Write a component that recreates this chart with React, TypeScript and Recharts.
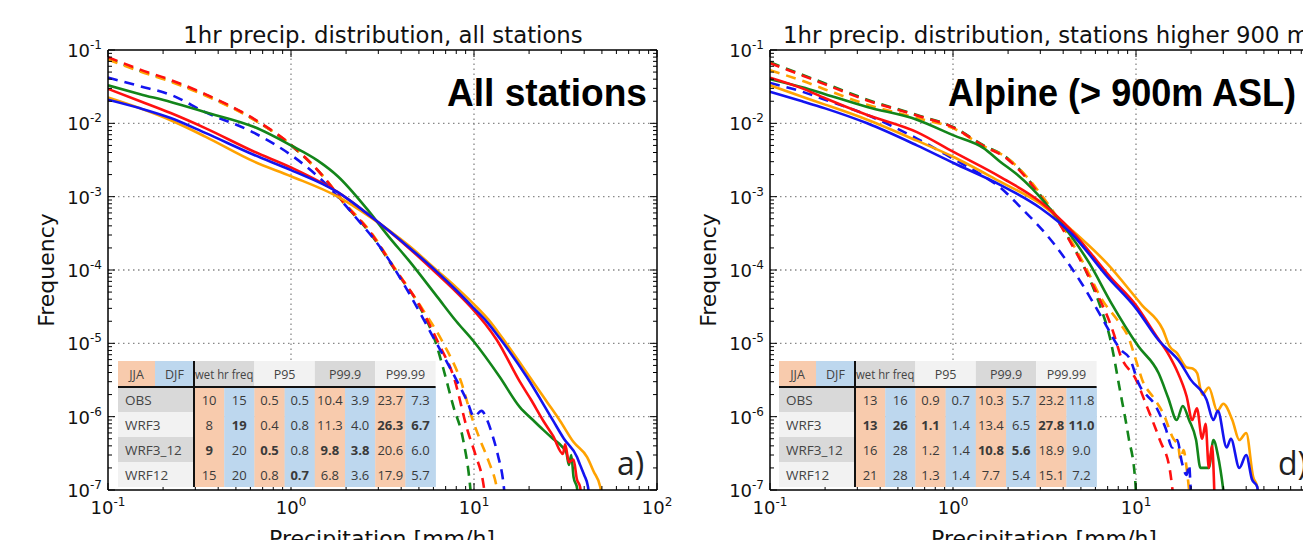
import React from "react";
import { LineChart, Line, XAxis, YAxis, ReferenceLine } from "recharts";

type Pt = [number, number];

// ---- left panel: all stations (solid = JJA, dashed = DJF) ----
const allGreenJJA: Pt[] = [[0.1,0.033],[0.15,0.025],[0.22,0.0195],[0.34,0.0142],[0.63,0.0089],[1.0,0.005],[1.4,0.0031],[1.8,0.0019],[2.6,6.8e-4],[3.4,2.9e-4],[4.4,1.35e-4],[6.3,4.3e-5],[8,2.0e-5],[10,1.05e-5],[13.8,3.5e-6],[17.8,1.35e-6],[21,9e-7],[23.9,6.6e-7],[27,5e-7],[30,4e-7],[32,3.2e-7],[33,2.2e-7],[34,3e-7],[35,1.5e-7],[36.6,1.05e-7],[37.5,5e-8]];
const allRedJJA: Pt[] = [[0.1,0.0295],[0.15,0.02],[0.22,0.0138],[0.34,0.0086],[0.63,0.0041],[1.0,0.0025],[1.8,1.15e-3],[2.7,5.5e-4],[4.4,2.0e-4],[6.3,8.8e-5],[8,5.0e-5],[10,2.8e-5],[11.5,1.85e-5],[13.3,1.12e-5],[17.8,3.0e-6],[20.5,1.7e-6],[23.9,8.8e-7],[27,5.5e-7],[30.6,3.1e-7],[31.5,4.2e-7],[33,2.4e-7],[35,2.6e-7],[36.5,1.4e-7],[38,1.1e-7],[39,5e-8]];
const allBlueJJA: Pt[] = [[0.1,0.021],[0.15,0.016],[0.22,0.0118],[0.34,0.0074],[0.63,0.0037],[1.0,0.0023],[1.8,1.15e-3],[2.7,5.5e-4],[4.4,2.05e-4],[6.3,9.35e-5],[8,5.3e-5],[10,3.0e-5],[11.8,1.95e-5],[13.8,1.18e-5],[19.4,3.5e-6],[27,8.9e-7],[31,5e-7],[36.6,2.8e-7],[38,2.2e-7],[40,1.6e-7],[42,1.1e-7],[43,5e-8]];
const allOrangeJJA: Pt[] = [[0.1,0.0225],[0.15,0.016],[0.22,0.011],[0.34,0.0066],[0.63,0.003],[1.0,0.0019],[1.8,1.0e-3],[2.7,5.3e-4],[4.4,2.15e-4],[6.3,9.8e-5],[8,5.8e-5],[10,3.4e-5],[12,2.1e-5],[14.4,1.15e-5],[21,3.0e-6],[25,1.6e-6],[29.5,8.8e-7],[35,4.5e-7],[41.5,2.8e-7],[45,1.8e-7],[49,1.1e-7],[51,5e-8]];
const allGreenDJF: Pt[] = [[0.1,0.078],[0.15,0.052],[0.22,0.038],[0.34,0.0245],[0.63,0.0112],[1.0,0.005],[1.47,0.002],[2.0,7.5e-4],[2.7,3.2e-4],[3.7,1.0e-4],[5.07,3.1e-5],[6.2,1.0e-5],[6.8,4.5e-6],[7.7,1.4e-6],[8.7,5e-7],[9.5,1.2e-7],[9.8,5e-8]];
const allRedDJF: Pt[] = [[0.1,0.08],[0.15,0.054],[0.22,0.039],[0.34,0.025],[0.63,0.0114],[1.0,0.0051],[1.47,0.002],[2.0,7.6e-4],[2.7,3.3e-4],[3.7,1.02e-4],[5.07,3.2e-5],[6.4,1.0e-5],[7.8,3.3e-6],[9.2,6.6e-7],[10.2,3e-7],[11.2,1.3e-7],[11.8,5e-8]];
const allOrangeDJF: Pt[] = [[0.1,0.074],[0.15,0.051],[0.22,0.037],[0.34,0.024],[0.63,0.0111],[1.0,0.0051],[1.47,0.002],[2.0,7.8e-4],[2.7,3.4e-4],[3.7,1.05e-4],[5.07,3.3e-5],[6.8,1.0e-5],[8.5,3e-6],[9.7,1e-6],[10.8,4.8e-7],[12,2.5e-7],[13.3,1.1e-7],[14,5e-8]];
const allBlueDJF: Pt[] = [[0.1,0.042],[0.15,0.032],[0.22,0.0245],[0.34,0.0142],[0.63,0.0074],[1.0,0.0037],[1.45,0.00175],[2.26,5.2e-4],[3.24,1.7e-4],[4.4,4.9e-5],[6.0,1.2e-5],[8.0,3.2e-6],[9.2,1.6e-6],[10,1.0e-6],[11,1.2e-6],[11.8,9e-7],[12.5,6e-7],[13.5,3e-7],[14.5,1.2e-7],[15,5e-8]];

// ---- right panel: alpine stations (> 900 m) ----
const alpGreenJJA: Pt[] = [[0.1,0.04],[0.15,0.031],[0.2,0.025],[0.34,0.0167],[0.635,0.0112],[1.0,0.0069],[1.47,0.0046],[1.81,0.003],[2.24,0.002],[2.7,1.3e-3],[3.75,5e-4],[5.6,1.2e-4],[7.3,3.6e-5],[10.3,9.1e-6],[13.3,3.9e-6],[15,1.8e-6],[16.7,9e-7],[18,1.4e-6],[19.5,9e-7],[21.3,4.8e-7],[22.5,2e-7],[25,2e-7],[26.5,4.8e-7],[28,3e-7],[30,1e-7],[31,5e-8]];
const alpRedJJA: Pt[] = [[0.1,0.042],[0.15,0.03],[0.2,0.022],[0.34,0.013],[0.635,0.0076],[1.0,0.0041],[1.81,1.86e-3],[3.0,8.5e-4],[4.46,3.4e-4],[7.3,7.8e-5],[10,3.3e-5],[12.8,1.3e-5],[15.3,6.6e-6],[16.7,4.3e-6],[18.9,1.9e-6],[20.3,9e-7],[21.5,1.3e-6],[23,5e-7],[24,8e-7],[25,2e-7],[26,4e-7],[27,5e-8]];
const alpBlueJJA: Pt[] = [[0.1,0.027],[0.15,0.02],[0.2,0.016],[0.34,0.01],[0.635,0.005],[1.0,0.0029],[1.81,1.45e-3],[3.0,7e-4],[4.46,3.1e-4],[7,8e-5],[10,3.0e-5],[13.3,1.1e-5],[17.5,5.4e-6],[19.9,3.2e-6],[24.3,1.7e-6],[26.5,9e-7],[28,1.2e-6],[31.3,3.8e-7],[33,5e-7],[36.7,2e-7],[40,3e-7],[43,1.4e-7],[46,1.1e-7],[47,5e-8]];
const alpOrangeJJA: Pt[] = [[0.1,0.033],[0.15,0.023],[0.2,0.018],[0.34,0.0112],[0.635,0.0058],[1.0,0.0035],[1.81,1.6e-3],[3.0,8e-4],[4.46,3.5e-4],[6.9,1.25e-4],[10.8,3.3e-5],[14,1.55e-5],[15.3,9e-6],[16.7,7.4e-6],[18.9,4.7e-6],[20.5,4.5e-6],[21.6,3.9e-6],[23,2e-6],[25,2.5e-6],[27.8,1.2e-6],[30,1.5e-6],[33.6,9e-7],[36.7,4.8e-7],[40,6e-7],[43.7,1.5e-7],[46,1.1e-7],[48,5e-8]];
const alpGreenDJF: Pt[] = [[0.1,0.068],[0.15,0.046],[0.2,0.035],[0.34,0.021],[0.635,0.013],[1.0,0.0089],[1.47,0.005],[1.97,0.0034],[2.54,1.8e-3],[3.0,1.05e-3],[3.75,4.7e-4],[4.7,1.8e-4],[5.3,1.0e-4],[6.35,3.3e-5],[7.2,1.2e-5],[8.2,2.2e-6],[9.1,5.3e-7],[9.9,1.35e-7],[10.1,5e-8]];
const alpRedDJF: Pt[] = [[0.1,0.066],[0.15,0.045],[0.2,0.034],[0.34,0.0205],[0.635,0.0128],[1.0,0.0088],[1.47,0.0049],[1.97,0.0033],[2.54,1.75e-3],[3.0,1.02e-3],[3.75,4.6e-4],[4.7,1.75e-4],[5.3,1.0e-4],[5.8,6.3e-5],[7.6,1.3e-5],[8.2,7e-6],[10,3.2e-6],[11.5,1.35e-6],[13.5,4.8e-7],[15.3,1.9e-7],[16,8e-8],[16.5,4e-8]];
const alpOrangeDJF: Pt[] = [[0.1,0.053],[0.15,0.038],[0.2,0.029],[0.34,0.018],[0.635,0.0118],[1.0,0.0086],[1.47,0.0049],[1.97,0.0034],[2.54,1.85e-3],[3.0,1.1e-3],[3.75,5e-4],[4.7,1.9e-4],[5.3,1.1e-4],[6.5,4e-5],[8,2e-5],[9.1,1.2e-5],[10.1,5.4e-6],[10.8,3.2e-6],[12.5,1.8e-6],[14.1,1.1e-6],[16,5e-7],[17,4e-7],[17.5,2.6e-7],[18.2,3.5e-7],[18.9,2e-7],[19.5,1e-7],[20,5e-8]];
const alpBlueDJF: Pt[] = [[0.1,0.0355],[0.15,0.027],[0.2,0.021],[0.34,0.013],[0.635,0.0062],[1.0,0.0033],[1.47,0.0019],[1.8,1.35e-3],[2.3,7.5e-4],[3.6,2.2e-4],[5.1,6.3e-5],[6.6,2.1e-5],[8.2,8.3e-6],[9.3,6e-6],[10.3,2.9e-6],[12.9,1.35e-6],[14.5,7e-7],[15.8,3.8e-7],[16.8,4.8e-7],[17.8,2.4e-7],[18.9,1.6e-7],[19.5,2.2e-7],[20,8e-8],[20.5,4e-8]];

// ---- tables ----
const tableRows = ["OBS", "WRF3", "WRF3_12", "WRF12"];
const tableHeads = ["wet hr freq", "P95", "P99.9", "P99.99"];
const allTable = [
  ["10", "15", "0.5", "0.5", "10.4", "3.9", "23.7", "7.3"],
  ["8", "19", "0.4", "0.8", "11.3", "4.0", "26.3", "6.7"],
  ["9", "20", "0.5", "0.8", "9.8", "3.8", "20.6", "6.0"],
  ["15", "20", "0.8", "0.7", "6.8", "3.6", "17.9", "5.7"],
];
const allBold = [
  [0, 0, 0, 0, 0, 0, 0, 0],
  [0, 1, 0, 0, 0, 0, 1, 1],
  [1, 0, 1, 0, 1, 1, 0, 0],
  [0, 0, 0, 1, 0, 0, 0, 0],
];
const alpTable = [
  ["13", "16", "0.9", "0.7", "10.3", "5.7", "23.2", "11.8"],
  ["13", "26", "1.1", "1.4", "13.4", "6.5", "27.8", "11.0"],
  ["16", "28", "1.2", "1.4", "10.8", "5.6", "18.9", "9.0"],
  ["21", "28", "1.3", "1.4", "7.7", "5.4", "15.1", "7.2"],
];
const alpBold = [
  [0, 0, 0, 0, 0, 0, 0, 0],
  [1, 1, 1, 0, 0, 0, 1, 1],
  [0, 0, 0, 0, 1, 1, 0, 0],
  [0, 0, 0, 0, 0, 0, 0, 0],
];

const xMajor = [0.1, 1, 10, 100];
const yMajor = [1e-7, 1e-6, 1e-5, 1e-4, 1e-3, 1e-2, 1e-1];

const GREEN = "#13851a";
const ORANGE = "#ffa200";
const RED = "#ff1010";
const BLUE = "#1414f0";
const SALMON = "#f8cbad";
const SKY = "#bdd7ee";
const FONT = "'DejaVu Sans', sans-serif";
const TFONT = "'Open Sans', sans-serif";

const withMinors = (majors: number[]) => {
  const out: number[] = [];
  majors.forEach((d, i) => {
    out.push(d);
    if (i < majors.length - 1)
      for (let m = 2; m <= 9; m++) out.push(Number((m * d).toPrecision(3)));
  });
  return out;
};
const xTicks = withMinors(xMajor);
const yTicks = withMinors(yMajor);

const isMajor = (v: number) => Math.abs(Math.log10(v) - Math.round(Math.log10(v))) < 1e-6;
const expOf = (v: number) => String(Math.round(Math.log10(v)));

const Pow = ({ x, y, v, anchor }: any) => (
  <text x={x} y={y} textAnchor={anchor} fontFamily={FONT} fontSize={18} fill="#111">
    10<tspan dy={-8} fontSize={12}>{expOf(v)}</tspan>
  </text>
);

const BottomTick = (p: any) => {
  const v = p.payload.value;
  const mj = isMajor(v);
  return (
    <g>
      <line x1={p.x} x2={p.x} y1={p.y} y2={p.y - (mj ? 7 : 4)} stroke="#000" />
      {mj && <Pow x={p.x} y={p.y + 24} v={v} anchor="middle" />}
    </g>
  );
};
const TopTick = (p: any) => {
  const mj = isMajor(p.payload.value);
  return <line x1={p.x} x2={p.x} y1={p.y} y2={p.y + (mj ? 7 : 4)} stroke="#000" />;
};
const LeftTick = (p: any) => {
  const v = p.payload.value;
  const mj = isMajor(v);
  return (
    <g>
      <line x1={p.x} x2={p.x + (mj ? 7 : 4)} y1={p.y} y2={p.y} stroke="#000" />
      {mj && <Pow x={p.x - 6} y={p.y + 7} v={v} anchor="end" />}
    </g>
  );
};
const RightTick = (p: any) => {
  const mj = isMajor(p.payload.value);
  return <line x1={p.x} x2={p.x - (mj ? 7 : 4)} y1={p.y} y2={p.y} stroke="#000" />;
};

const toPts = (arr: Pt[]) => arr.map(([x, y]) => ({ x, y }));
const axisLine = { stroke: "#000", strokeWidth: 1.5 };

type Series = { pts: Pt[]; color: string; dashed: boolean };

const Panel = ({ series, left }: { series: Series[]; left: number }) => (
  <div style={{ position: "absolute", left, top: 0 }}>
    <LineChart width={700} height={540} margin={{ top: 49, right: 42, bottom: 20, left: 60 }}>
      <XAxis dataKey="x" type="number" scale="log" domain={[0.1, 100]} allowDataOverflow
        ticks={xTicks} interval={0} tickSize={0} tickMargin={0} tickLine={false} height={30}
        axisLine={axisLine} tick={BottomTick} />
      <XAxis xAxisId="top" orientation="top" dataKey="x" type="number" scale="log" domain={[0.1, 100]}
        allowDataOverflow ticks={xTicks} interval={0} tickSize={0} tickMargin={0} tickLine={false}
        height={1} axisLine={axisLine} tick={TopTick} />
      <YAxis type="number" scale="log" domain={[1e-7, 0.1]} allowDataOverflow ticks={yTicks}
        interval={0} tickSize={0} tickMargin={0} tickLine={false} width={48} axisLine={axisLine}
        tick={LeftTick} />
      <YAxis yAxisId="right" orientation="right" type="number" scale="log" domain={[1e-7, 0.1]}
        allowDataOverflow ticks={yTicks} interval={0} tickSize={0} tickMargin={0} tickLine={false}
        width={1} axisLine={axisLine} tick={RightTick} />
      {[1, 10].map((v) => (
        <ReferenceLine key={"gx" + v} x={v} stroke="#888" strokeDasharray="1.5 3.5" strokeWidth={1.3} />
      ))}
      {[1e-2, 1e-3, 1e-4, 1e-5, 1e-6].map((v) => (
        <ReferenceLine key={"gy" + v} y={v} stroke="#888" strokeDasharray="1.5 3.5" strokeWidth={1.3} />
      ))}
      {series.map((s, i) => (
        <Line key={i} data={toPts(s.pts)} dataKey="y" type="monotone" stroke={s.color}
          strokeWidth={2.6} strokeDasharray={s.dashed ? "10 7" : undefined} dot={false}
          isAnimationActive={false} />
      ))}
    </LineChart>
  </div>
);

const allSeries: Series[] = [
  { pts: allGreenDJF, color: GREEN, dashed: true },
  { pts: allOrangeDJF, color: ORANGE, dashed: true },
  { pts: allRedDJF, color: RED, dashed: true },
  { pts: allBlueDJF, color: BLUE, dashed: true },
  { pts: allOrangeJJA, color: ORANGE, dashed: false },
  { pts: allGreenJJA, color: GREEN, dashed: false },
  { pts: allRedJJA, color: RED, dashed: false },
  { pts: allBlueJJA, color: BLUE, dashed: false },
];
const alpSeries: Series[] = [
  { pts: alpGreenDJF, color: GREEN, dashed: true },
  { pts: alpOrangeDJF, color: ORANGE, dashed: true },
  { pts: alpRedDJF, color: RED, dashed: true },
  { pts: alpBlueDJF, color: BLUE, dashed: true },
  { pts: alpOrangeJJA, color: ORANGE, dashed: false },
  { pts: alpGreenJJA, color: GREEN, dashed: false },
  { pts: alpRedJJA, color: RED, dashed: false },
  { pts: alpBlueJJA, color: BLUE, dashed: false },
];

const StatsTable = ({ x0, y0, values, bold }: { x0: number; y0: number; values: string[][]; bold: number[][] }) => {
  const labW = 76, jjaW = 37, colW = 30.2, headH = 26, rowH = 25;
  const vx = x0 + labW;
  const greys = ["#d9d9d9", "#f2f2f2"];
  return (
    <g fontFamily={TFONT} fill="#3a3a3a">
      <rect x={x0} y={y0} width={jjaW} height={headH} fill={SALMON} />
      <rect x={x0 + jjaW} y={y0} width={labW - jjaW} height={headH} fill={SKY} />
      <text x={x0 + jjaW / 2} y={y0 + 18} textAnchor="middle" fontSize={12.5} fill="#444">JJA</text>
      <text x={x0 + jjaW + (labW - jjaW) / 2} y={y0 + 18} textAnchor="middle" fontSize={12.5} fill="#444">DJF</text>
      {tableHeads.map((h, i) => (
        <g key={h}>
          <rect x={vx + i * 2 * colW} y={y0} width={2 * colW} height={headH} fill={greys[i % 2]} />
          {i === 0 ? (
            <text x={vx + 1} y={y0 + 18} fontSize={12.5} textLength={2 * colW - 2}
              lengthAdjust="spacingAndGlyphs" fill="#444">{h}</text>
          ) : (
            <text x={vx + i * 2 * colW + colW} y={y0 + 18} textAnchor="middle" fontSize={12.5} fill="#444">{h}</text>
          )}
        </g>
      ))}
      {tableRows.map((r, ri) => {
        const ry = y0 + headH + ri * rowH;
        return (
          <g key={r}>
            <rect x={x0} y={ry} width={labW} height={rowH} fill={greys[ri % 2]} />
            <text x={x0 + 7} y={ry + 17.5} fontSize={13.5} fill="#444">{r}</text>
            {values[ri].map((v, ci) => (
              <g key={ci}>
                <rect x={vx + ci * colW} y={ry} width={colW + 0.3} height={rowH} fill={ci % 2 ? SKY : SALMON} />
                <text x={vx + ci * colW + colW / 2} y={ry + 17.5} textAnchor="middle" fontSize={13}
                  fontWeight={bold[ri][ci] ? 700 : 400} fill="#3a3a3a">{v}</text>
              </g>
            ))}
          </g>
        );
      })}
      <line x1={x0} x2={vx + 8 * colW} y1={y0 + headH} y2={y0 + headH} stroke="#111" strokeWidth={2} />
      <line x1={vx} x2={vx} y1={y0} y2={y0 + headH + 4 * rowH} stroke="#111" strokeWidth={2} />
    </g>
  );
};

const Overlay = () => (
  <svg width={1303} height={540} style={{ position: "absolute", left: 0, top: 0, pointerEvents: "none" }}>
    <g fontFamily={FONT} fill="#111">
      <text x={383} y={43} textAnchor="middle" fontSize={22.8}>1hr precip. distribution, all stations</text>
      <text x={1046} y={43} textAnchor="middle" fontSize={22.8}>1hr precip. distribution, stations higher 900 m</text>
      <text x={382} y={546} textAnchor="middle" fontSize={22}>Precipitation [mm/h]</text>
      <text x={1044} y={546} textAnchor="middle" fontSize={22}>Precipitation [mm/h]</text>
      <text transform="translate(54,270) rotate(-90)" textAnchor="middle" fontSize={22}>Frequency</text>
      <text transform="translate(716,270) rotate(-90)" textAnchor="middle" fontSize={22}>Frequency</text>
    </g>
    <g fontFamily="'Liberation Sans', Arial, sans-serif" fontWeight={700} fontSize={38} fill="#000">
      <text x={447} y={106} textLength={200} lengthAdjust="spacingAndGlyphs">All stations</text>
      <text x={948} y={106} textLength={348} lengthAdjust="spacingAndGlyphs">Alpine (&gt; 900m ASL)</text>
    </g>
    <StatsTable x0={118} y0={361} values={allTable} bold={allBold} />
    <StatsTable x0={779} y0={361} values={alpTable} bold={alpBold} />
    <g fontFamily={TFONT} fontSize={32} fill="#222">
      <text x={617} y={475}>a)</text>
      <text x={1278} y={475}>d)</text>
    </g>
  </svg>
);

export default function App() {
  return (
    <div style={{ position: "absolute", left: 0, top: 0, width: 1303, height: 540, overflow: "hidden", background: "#fff" }}>
      <Panel series={allSeries} left={0} />
      <Panel series={alpSeries} left={662} />
      <Overlay />
    </div>
  );
}
